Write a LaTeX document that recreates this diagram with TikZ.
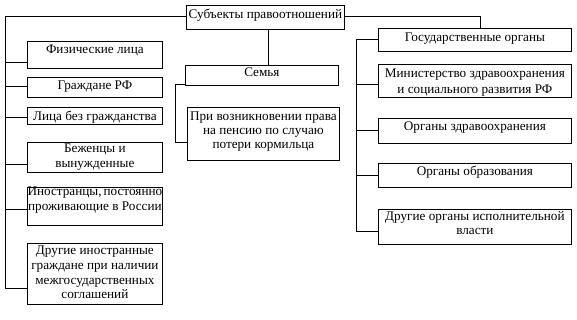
\documentclass[tikz,border=0pt]{standalone}
\usepackage{fontspec}
\setmainfont{Liberation Serif}
\newcommand\bxt[5][15]{\parbox[t][#3][t]{#2}{\vspace*{#4}\centering\fontsize{13.2}{#1}\selectfont\strut #5\par}}
\begin{document}
\begin{tikzpicture}[x=1pt,y=-1pt,
  bx/.style={draw,line width=0.8pt,inner sep=0pt,anchor=north west},
  ln/.style={line width=0.8pt}]
\useasboundingbox (0,0) rectangle (577,319);
% top
\node[bx] (top) at (186,5) {\bxt{158pt}{24pt}{3pt}{Субъекты правоотношений}};
% left column
\node[bx] (l1) at (27,41) {\bxt{135pt}{27pt}{2pt}{Физические лица}};
\node[bx] (l2) at (27,77) {\bxt{135pt}{20pt}{2pt}{Граждане РФ}};
\node[bx] (l3) at (27,107) {\bxt{135pt}{17pt}{2.5pt}{Лица без гражданства}};
\node[bx] (l4) at (27,142) {\bxt{135pt}{30pt}{0pt}{Беженцы и\\вынужденные}};
\node[bx] (l5) at (27,187) {\bxt{135pt}{38pt}{-2pt}{\makebox[\linewidth]{Иностранцы,\hspace{2pt}постоянно}\\\makebox[\linewidth]{проживающие в России}}};
\node[bx] (l6) at (27,243) {\bxt[14.7]{135pt}{61pt}{1pt}{Другие иностранные\\граждане при наличии\\межгосударственных\\соглашений}};
% middle
\node[bx] (fam) at (185,65) {\bxt{153pt}{20pt}{1pt}{Семья}};
\node[bx] (pen) at (187,107) {\bxt[14]{152pt}{53pt}{3pt}{При возникновении права\\на пенсию по случаю\\потери кормильца}};
% right column
\node[bx] (r1) at (378,28) {\bxt{193pt}{23pt}{3pt}{Государственные органы}};
\node[bx] (r2) at (378,64) {\bxt[16]{193pt}{33pt}{2pt}{Министерство здравоохранения\\и социального развития РФ}};
\node[bx] (r3) at (378,118) {\bxt{193pt}{25pt}{2pt}{Органы здравоохранения}};
\node[bx] (r4) at (378,163) {\bxt{193pt}{24pt}{2pt}{Органы образования}};
\node[bx] (r5) at (378,209) {\bxt[14]{193pt}{35pt}{1pt}{Другие органы исполнительной\\власти}};
% left tree
\coordinate (lc) at (5,16);
\draw[ln] (top.west |- 0,16) -- (lc) -- (5,288);
\foreach \n/\y in {l1/62,l2/86,l3/117,l4/164,l5/209,l6/288}
  \draw[ln] (5,\y) -- (\n.west |- 0,\y);
% middle
\draw[ln] (top.south -| 268,0) -- (fam.north -| 268,0);
\draw[ln] (fam.west |- 0,84) -- (175,84) -- (175,142) -- (pen.west |- 0,142);
% right
\draw[ln] (top.east |- 0,16) -- (480,16) -- (r1.north -| 480,0);
\draw[ln] (356,39) -- (356,231);
\foreach \n/\y in {r1/39,r2/84,r3/130,r4/175,r5/231}
  \draw[ln] (356,\y) -- (\n.west |- 0,\y);
\end{tikzpicture}
\end{document}
